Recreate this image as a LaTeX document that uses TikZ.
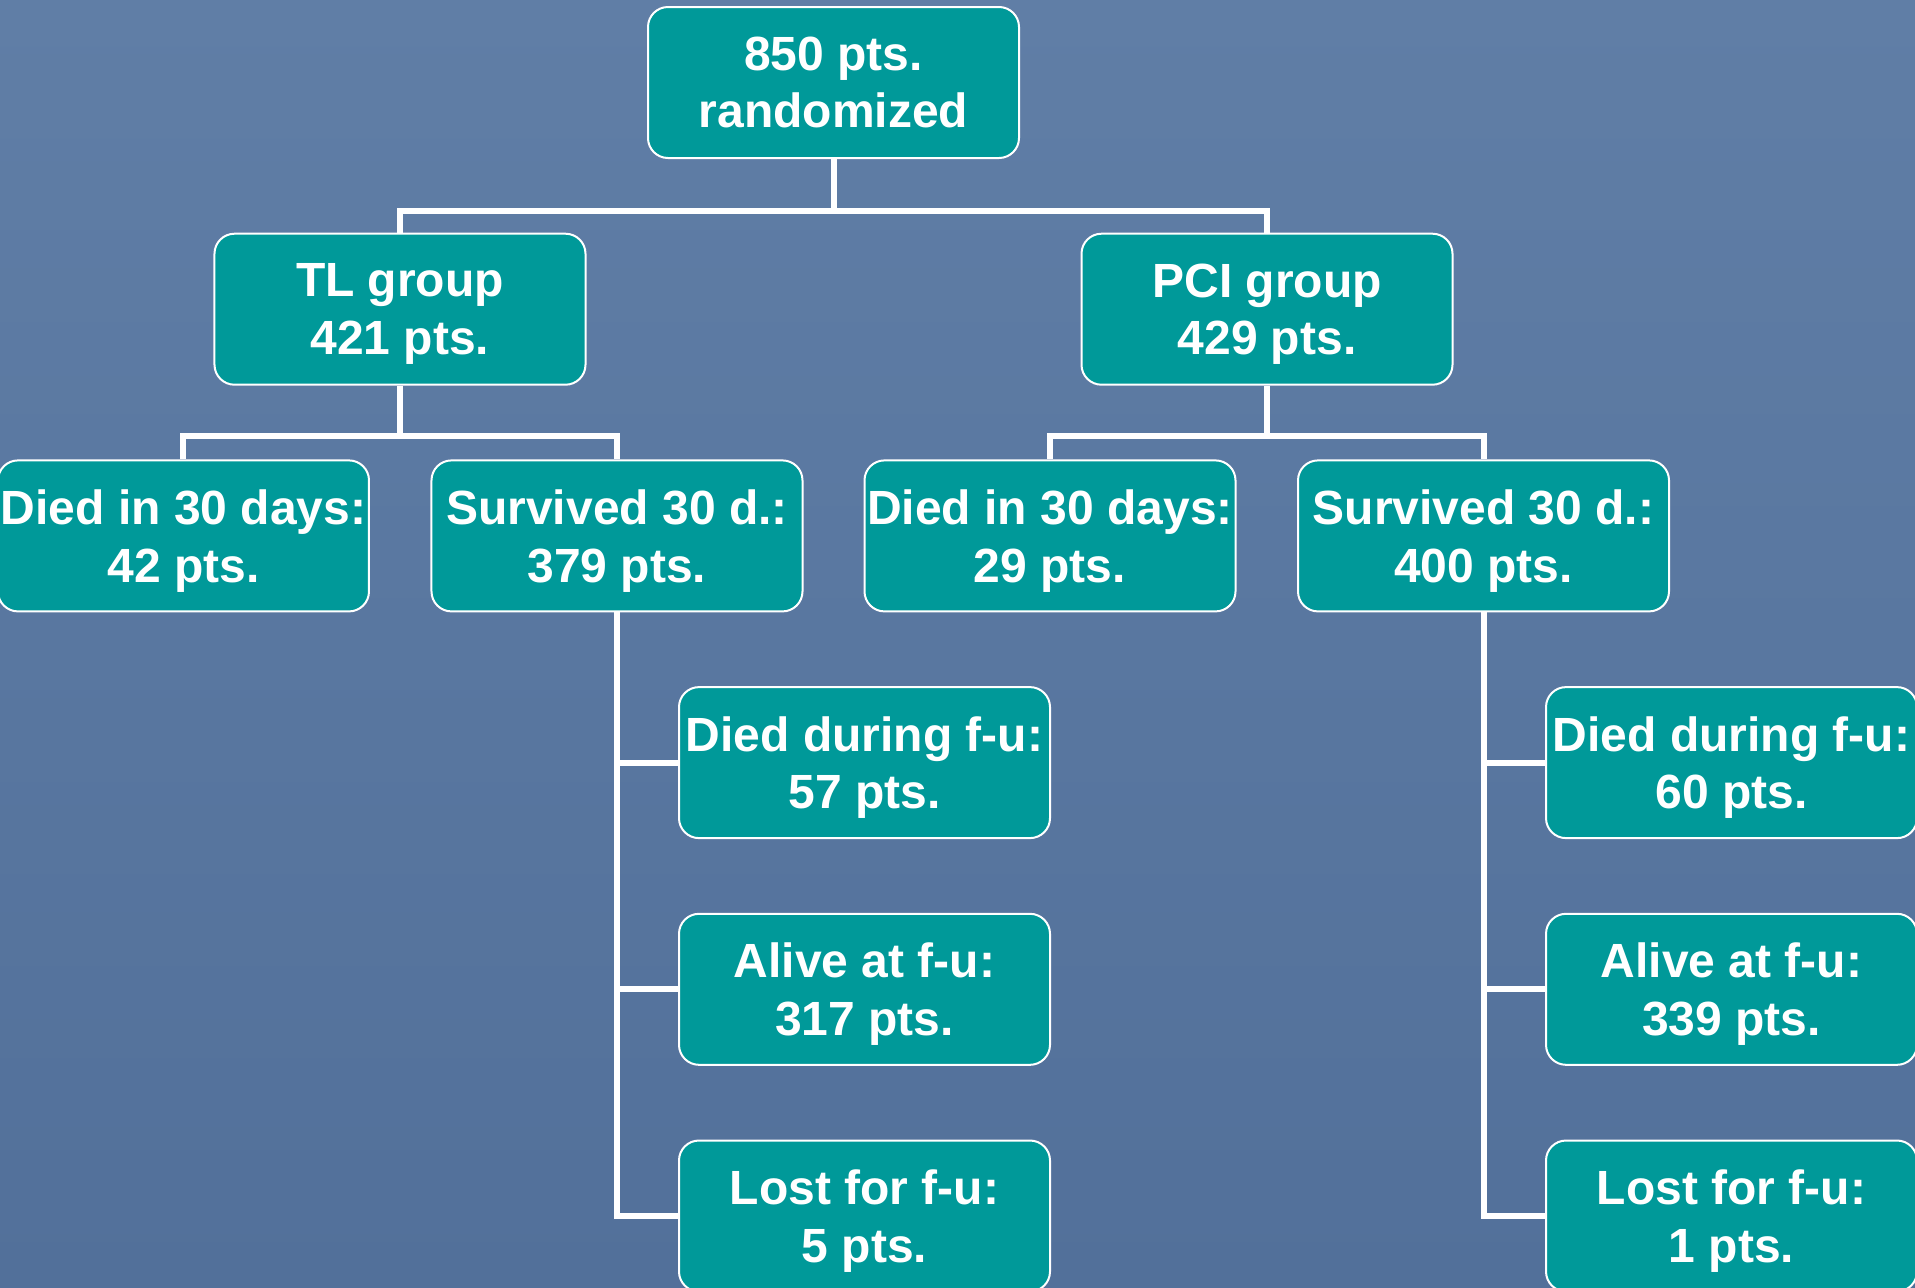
\documentclass[tikz,border=0pt]{standalone}
\usepackage{fontspec}
\setmainfont{Liberation Sans}
\usetikzlibrary{positioning}

\definecolor{slatetop}{RGB}{96,126,166}
\definecolor{slatebot}{RGB}{82,112,154}
\definecolor{teal}{RGB}{0,153,153}

\tikzset{
  group/.style={draw=white, line width=0.02cm, fill=teal, rounded corners=0.2cm,
    minimum width=3.71cm, minimum height=1.51cm, inner sep=0pt, align=center,
    text depth=0pt, text=white, font=\fontsize{13.66}{16.35}\selectfont\bfseries},
  link/.style={draw=white, line width=0.06cm},
}

\begin{document}
\begin{tikzpicture}[node distance=0.737cm]
      \useasboundingbox (-8.335,-12.045) rectangle (10.815,0.825);
      \shade[top color=slatetop, bottom color=slatebot] (-8.335,-12.045) rectangle (10.815,0.825);

      \node[group] (all) {850 pts.\\randomized} ;
      \node[group, below=of all, xshift=-4.335cm] (tl) {TL group\\421 pts.} ;
      \node[group, below=of all, xshift=+4.335cm] (pci) {PCI group\\429 pts.} ;

      \node[group, below=of tl, xshift=-2.165cm] (tldied) {Died in 30 days:\\42 pts.} ;
      \node[group, below=of tl, xshift=+2.17cm] (tlsurv) {Survived 30 d.:\\379 pts.} ;
      \node[group, below=of pci, xshift=-2.17cm] (pcidied) {Died in 30 days:\\29 pts.} ;
      \node[group, below=of pci, xshift=+2.165cm] (pcisurv) {Survived 30 d.:\\400 pts.} ;

      \node[group, below=of tlsurv, xshift=+2.475cm] (tlfudied) {Died during f-u:\\57 pts.} ;
      \node[group, below=of tlfudied] (tlfualive) {Alive at f-u:\\317 pts.} ;
      \node[group, below=of tlfualive] (tlfulost) {Lost for f-u:\\5 pts.} ;
      \node[group, below=of pcisurv, xshift=+2.48cm] (pcifudied) {Died during f-u:\\60 pts.} ;
      \node[group, below=of pcifudied] (pcifualive) {Alive at f-u:\\339 pts.} ;
      \node[group, below=of pcifualive] (pcifulost) {Lost for f-u:\\1 pts.} ;

      \draw[link] (all.south) -- ++(0,-0.52) -| (tl.north) ;
      \draw[link] (all.south) -- ++(0,-0.52) -| (pci.north) ;

      \draw[link] (tl.south) -- ++(0,-0.5) -| (tldied.north) ;
      \draw[link] (tl.south) -- ++(0,-0.5) -| (tlsurv.north) ;
      \draw[link] (pci.south) -- ++(0,-0.5) -| (pcidied.north) ;
      \draw[link] (pci.south) -- ++(0,-0.5) -| (pcisurv.north) ;

      \draw[link] (tlsurv.south) |- (tlfudied.west) ;
      \draw[link] (tlsurv.south) |- (tlfualive.west) ;
      \draw[link] (tlsurv.south) |- (tlfulost.west) ;
      \draw[link] (pcisurv.south) |- (pcifudied.west) ;
      \draw[link] (pcisurv.south) |- (pcifualive.west) ;
      \draw[link] (pcisurv.south) |- (pcifulost.west) ;
\end{tikzpicture}
\end{document}
